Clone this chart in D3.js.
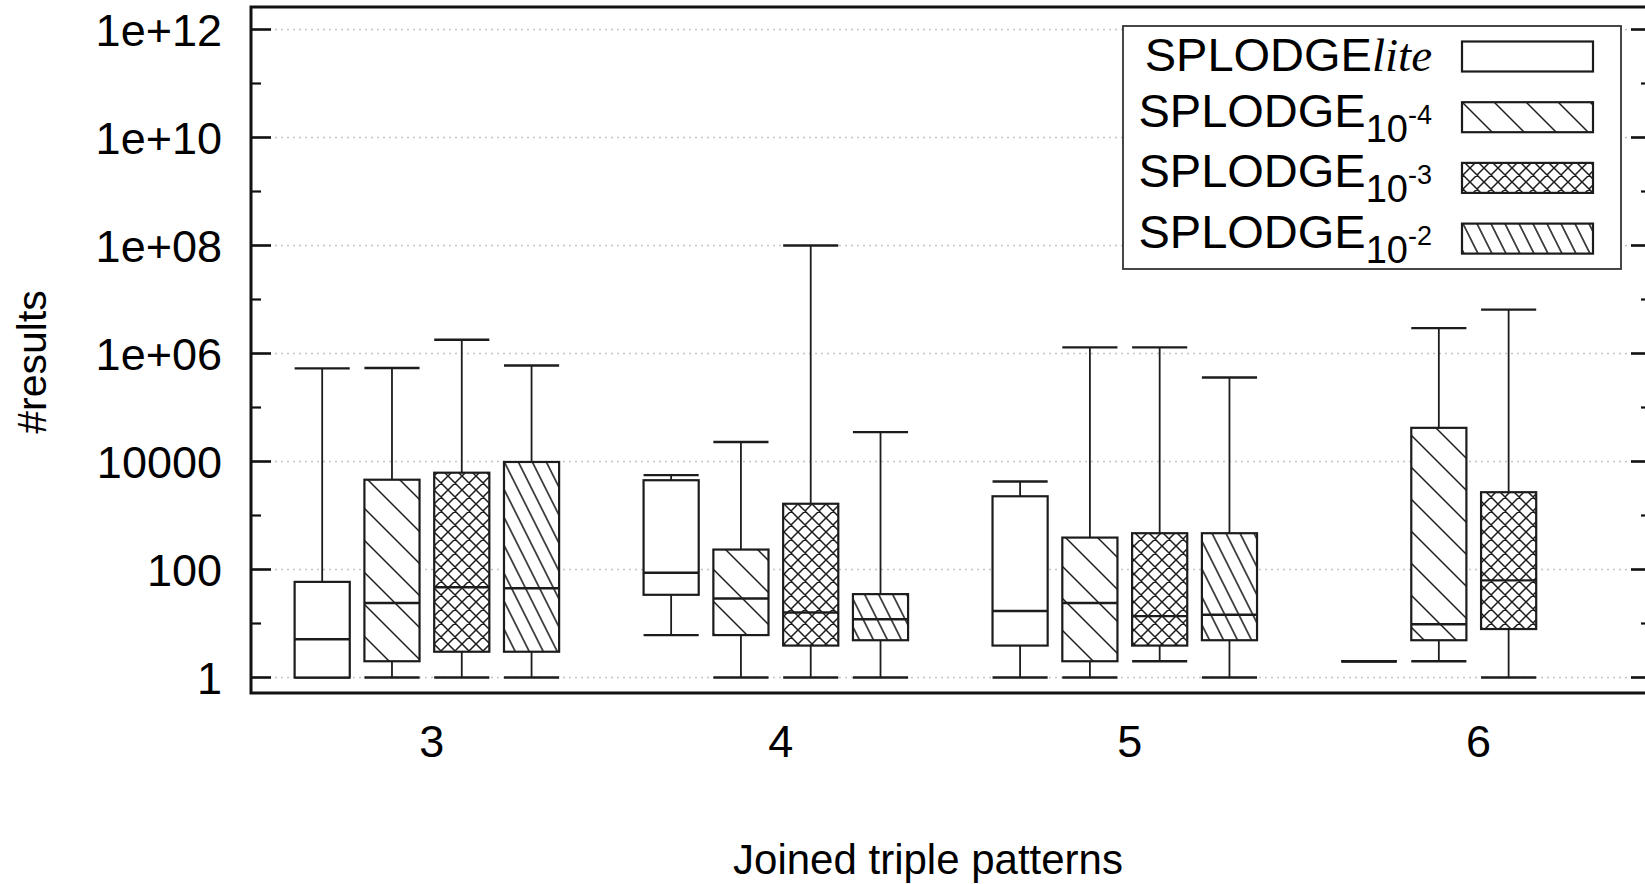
<!DOCTYPE html>
<html>
<head>
<meta charset="utf-8">
<script src="https://cdn.jsdelivr.net/npm/d3@7/dist/d3.min.js"></script>
<style>
  html, body { margin: 0; padding: 0; background: #fff; }
  svg { display: block; }
  text { font-family: "Liberation Sans", Arial, Helvetica, sans-serif; fill: #000; }
</style>
</head>
<body>
<svg id="chart" width="1645" height="884"></svg>
<script>
"use strict";

// x categories: number of joined triple patterns
const groups = [3, 4, 5, 6];

// y axis ticks (log scale)
const yTickValues = [1, 1e2, 1e4, 1e6, 1e8, 1e10, 1e12];
const yTickLabels = ["1", "100", "10000", "1e+06", "1e+08", "1e+10", "1e+12"];
const yMinorTicks = [10, 1e3, 1e5, 1e7, 1e9, 1e11];

// box stats per group: [min, q1, median, q3, max]
const liteStats = [
    [1, 1, 5.1, 59, 5.3e5],
    [6.1, 34, 87, 4500, 5600],
    [1, 3.9, 17, 2270, 4260],
    [2, 2, 2, 2, 2]
];
const e4Stats = [
    [1, 2, 24, 4600, 5.4e5],
    [1, 6.1, 29, 234, 2.3e4],
    [1, 2, 24, 390, 1.3e6],
    [2, 4.9, 9.7, 4.2e4, 2.95e6]
];
const e3Stats = [
    [1, 3, 47, 6200, 1.8e6],
    [1, 3.9, 16, 1650, 1e8],
    [2, 3.9, 13.7, 470, 1.3e6],
    [1, 7.9, 63, 2700, 6.5e6]
];
const e2Stats = [
    [1, 3, 45, 9800, 6e5],
    [1, 4.9, 12, 35, 3.5e4],
    [1, 4.9, 14.5, 470, 3.6e5],
    null
];

// legend: SPLODGE + suffix
const seriesSuffix = ["lite", "-4", "-3", "-2"];
const seriesFill = ["none", "url(#hatchWide)", "url(#crossHatch)", "url(#hatchDense)"];

const setting = {
    left: 251, right: 1651, top: 7, bottom: 693,
    yTop: 29.5, yBottom: 677.5,
    boxWidth: 0.158, boxStep: 0.2, boxShift: -0.014,
    ink: "#1c1c1c"
};

const svg = d3.select("#chart");
const x = d3.scaleLinear().domain([2.482, 6.494]).range([setting.left, setting.right]);
const y = d3.scaleLog().domain([1, 1e12]).range([setting.yBottom, setting.yTop]);

function makePatterns(svg) {
    const defs = svg.append("defs");
    // sparse "\" lines
    defs.append("pattern")
        .attr("id", "hatchWide")
        .attr("patternUnits", "userSpaceOnUse")
        .attr("width", 32).attr("height", 32)
        .attr("patternTransform", "skewX(45)")
        .append("line")
        .attr("x1", 16).attr("x2", 16).attr("y1", 0).attr("y2", 32)
        .attr("stroke", setting.ink).attr("stroke-width", 2.1);
    // dense steep "\" lines
    defs.append("pattern")
        .attr("id", "hatchDense")
        .attr("patternUnits", "userSpaceOnUse")
        .attr("width", 14).attr("height", 14)
        .attr("patternTransform", "skewX(26.6)")
        .append("line")
        .attr("x1", 7).attr("x2", 7).attr("y1", 0).attr("y2", 14)
        .attr("stroke", setting.ink).attr("stroke-width", 1.7);
    // cross hatch
    const p = 14;
    let d = "";
    [-p, 0, p].forEach(k => { d += `M${-p},${-p + k}L${2 * p},${2 * p + k}`; });
    [0, p, 2 * p].forEach(k => { d += `M${-p},${p + k}L${2 * p},${-2 * p + k}`; });
    defs.append("pattern")
        .attr("id", "crossHatch")
        .attr("patternUnits", "userSpaceOnUse")
        .attr("width", p).attr("height", p)
        .append("path")
        .attr("d", d)
        .attr("fill", "none")
        .attr("stroke", setting.ink).attr("stroke-width", 1.5);
}

function yGrid_line(chart) {
    chart.append("g")
        .attr("class", "yGrid grid")
        .selectAll("line")
        .data(yTickValues)
        .join("line")
        .attr("x1", setting.left).attr("x2", setting.right)
        .attr("y1", d => y(d)).attr("y2", d => y(d))
        .attr("stroke", "#c4c4c4")
        .attr("stroke-width", 1.5)
        .attr("stroke-dasharray", "2, 4");
}

function drawSeries(chart, stats, k) {
    const half = (x(3 + setting.boxWidth) - x(3)) / 2;
    const g = chart.append("g").attr("class", "series s" + k);
    stats.forEach((s, i) => {
        if (!s) return;
        const cx = x(groups[i] + (k - 1.5) * setting.boxStep + setting.boxShift);
        const [lo, q1, med, q3, hi] = s;
        const line = (x1, y1, x2, y2, w) => g.append("line")
            .attr("x1", x1).attr("y1", y1).attr("x2", x2).attr("y2", y2)
            .attr("stroke", setting.ink).attr("stroke-width", w);
        // whiskers and caps
        line(cx, y(q3), cx, y(hi), 1.8);
        line(cx, y(lo), cx, y(q1), 1.8);
        line(cx - half, y(hi), cx + half, y(hi), 2.4);
        line(cx - half, y(lo), cx + half, y(lo), 2.4);
        // box
        g.append("rect")
            .attr("x", cx - half).attr("y", y(q3))
            .attr("width", half * 2).attr("height", y(q1) - y(q3))
            .attr("fill", "#fff");
        if (seriesFill[k] !== "none") {
            g.append("rect")
                .attr("x", cx - half).attr("y", y(q3))
                .attr("width", half * 2).attr("height", y(q1) - y(q3))
                .attr("fill", seriesFill[k]);
        }
        g.append("rect")
            .attr("x", cx - half).attr("y", y(q3))
            .attr("width", half * 2).attr("height", y(q1) - y(q3))
            .attr("fill", "none")
            .attr("stroke", setting.ink).attr("stroke-width", 2.2);
        line(cx - half, y(med), cx + half, y(med), 2.4);
    });
}

function drawAxes(chart) {
    // frame
    chart.append("rect")
        .attr("x", setting.left).attr("y", setting.top)
        .attr("width", setting.right - setting.left)
        .attr("height", setting.bottom - setting.top)
        .attr("fill", "none")
        .attr("stroke", "#111")
        .attr("stroke-width", 3);

    const ticks = chart.append("g").attr("class", "yTicks");
    const addTicks = (values, len, w) => {
        ticks.selectAll(null).data(values).join("line")
            .attr("x1", setting.left).attr("x2", setting.left + len)
            .attr("y1", d => y(d)).attr("y2", d => y(d))
            .attr("stroke", "#111").attr("stroke-width", w);
        ticks.selectAll(null).data(values).join("line")
            .attr("x1", setting.right).attr("x2", setting.right - len)
            .attr("y1", d => y(d)).attr("y2", d => y(d))
            .attr("stroke", "#111").attr("stroke-width", w);
    };
    addTicks(yTickValues, 20, 2.6);
    addTicks(yMinorTicks, 10, 2.2);

    chart.append("g")
        .attr("class", "yLabels")
        .selectAll("text")
        .data(yTickValues)
        .join("text")
        .attr("x", 222)
        .attr("y", d => y(d))
        .attr("dy", "0.36em")
        .attr("text-anchor", "end")
        .style("font-size", "45px")
        .text((d, i) => yTickLabels[i]);

    chart.append("g")
        .attr("class", "xLabels")
        .selectAll("text")
        .data(groups)
        .join("text")
        .attr("x", d => x(d))
        .attr("y", 757)
        .attr("text-anchor", "middle")
        .style("font-size", "45px")
        .text(d => d);

    chart.append("text")
        .attr("x", 928).attr("y", 874)
        .attr("text-anchor", "middle")
        .style("font-size", "42px")
        .text("Joined triple patterns");

    chart.append("text")
        .attr("transform", "translate(46, 362) rotate(-90)")
        .attr("text-anchor", "middle")
        .style("font-size", "41px")
        .text("#results");
}

function drawLegend(chart) {
    const lg = chart.append("g").attr("class", "legend");
    lg.append("rect")
        .attr("x", 1123).attr("y", 26)
        .attr("width", 498).attr("height", 243)
        .attr("fill", "#fff")
        .attr("stroke", "#333").attr("stroke-width", 1.8);

    seriesSuffix.forEach((suf, k) => {
        const cy = 56.5 + k * 60.7;
        ["#fff", seriesFill[k]].forEach(f => {
            if (f === "none") return;
            lg.append("rect")
                .attr("x", 1462).attr("y", cy - 15)
                .attr("width", 131).attr("height", 30)
                .attr("fill", f);
        });
        lg.append("rect")
            .attr("x", 1462).attr("y", cy - 15)
            .attr("width", 131).attr("height", 30)
            .attr("fill", "none")
            .attr("stroke", setting.ink).attr("stroke-width", 2.2);

        const t = lg.append("text")
            .attr("x", 1432)
            .attr("text-anchor", "end")
            .style("font-size", "47px");
        if (k === 0) {
            t.attr("y", cy + 14.5);
            t.append("tspan").text("SPLODGE");
            t.append("tspan")
                .style("font-family", "'Liberation Serif', 'Times New Roman', serif")
                .style("font-style", "italic")
                .text(suf);
        } else {
            t.attr("y", cy + 9.5);
            t.append("tspan").text("SPLODGE");
            t.append("tspan").attr("dy", 15).style("font-size", "38px").text("10");
            t.append("tspan").attr("dy", -18).style("font-size", "27px").text(suf);
        }
    });
}

makePatterns(svg);
const chart = svg.append("g");
yGrid_line(chart);
drawSeries(chart, liteStats, 0);
drawSeries(chart, e4Stats, 1);
drawSeries(chart, e3Stats, 2);
drawSeries(chart, e2Stats, 3);
drawAxes(chart);
drawLegend(chart);
</script>
</body>
</html>
